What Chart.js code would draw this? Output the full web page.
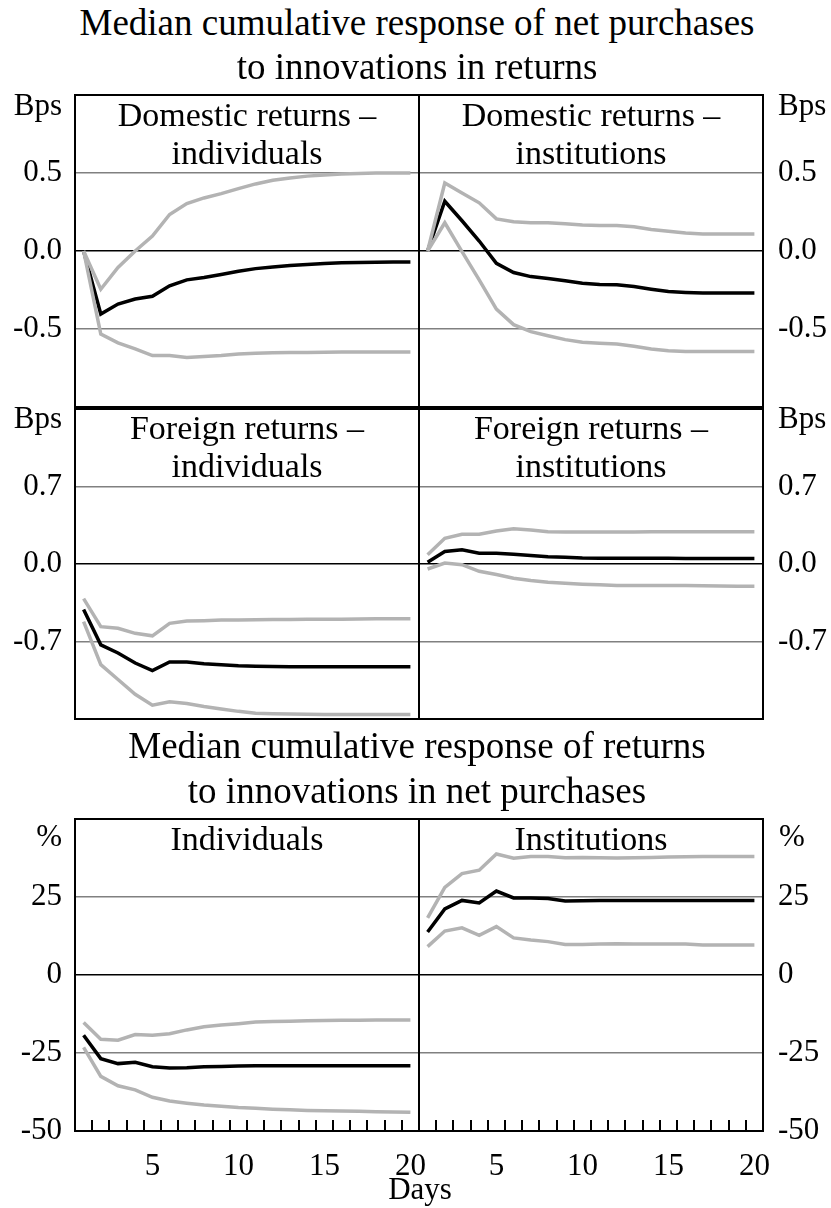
<!DOCTYPE html>
<html>
<head>
<meta charset="utf-8">
<script src="https://cdn.jsdelivr.net/npm/chart.js@4.4.1/dist/chart.umd.min.js"></script>
<style>
  html, body { margin: 0; padding: 0; background: #fff; }
  #fig { position: relative; width: 831px; height: 1208px; overflow: hidden;
         font-family: 'Liberation Serif', 'Times New Roman', serif; color: #000; }
  #fig canvas { position: absolute; }
  .t { position: absolute; white-space: nowrap; line-height: 1; z-index: 5; }
</style>
</head>
<body>
<div id="fig"></div>
<script>
// ---- data: 20-day cumulative impulse responses (median and error bands) ----
const days = ['1','2','3','4','5','6','7','8','9','10','11','12','13','14','15','16','17','18','19','20'];

// net purchases responding to domestic returns, individuals (bps)
const domIndHi  = [0, -0.245, -0.106, 0.0, 0.096, 0.234, 0.304, 0.34, 0.368, 0.40, 0.43, 0.453, 0.468, 0.48, 0.487, 0.493, 0.497, 0.5, 0.5, 0.5];
const domIndMed = [0, -0.404, -0.34, -0.308, -0.29, -0.223, -0.185, -0.17, -0.151, -0.13, -0.113, -0.102, -0.093, -0.087, -0.08, -0.076, -0.074, -0.072, -0.07, -0.07];
const domIndLo  = [0, -0.532, -0.589, -0.627, -0.67, -0.67, -0.683, -0.676, -0.67, -0.66, -0.655, -0.653, -0.651, -0.65, -0.649, -0.648, -0.648, -0.647, -0.647, -0.647];

// net purchases responding to domestic returns, institutions (bps)
const domInsHi  = [0, 0.436, 0.372, 0.309, 0.206, 0.187, 0.181, 0.181, 0.174, 0.166, 0.164, 0.164, 0.155, 0.138, 0.126, 0.115, 0.109, 0.109, 0.109, 0.109];
const domInsMed = [0, 0.319, 0.194, 0.064, -0.079, -0.138, -0.164, -0.177, -0.191, -0.206, -0.215, -0.217, -0.228, -0.245, -0.26, -0.266, -0.27, -0.27, -0.27, -0.27];
const domInsLo  = [0, 0.181, -0.004, -0.185, -0.372, -0.472, -0.517, -0.543, -0.568, -0.585, -0.591, -0.596, -0.611, -0.628, -0.64, -0.645, -0.645, -0.645, -0.645, -0.645];

// net purchases responding to foreign returns, individuals (bps)
const forIndHi  = [-0.313, -0.566, -0.581, -0.626, -0.649, -0.536, -0.515, -0.512, -0.506, -0.505, -0.503, -0.502, -0.501, -0.5, -0.499, -0.498, -0.497, -0.495, -0.494, -0.494];
const forIndMed = [-0.411, -0.73, -0.804, -0.894, -0.962, -0.885, -0.885, -0.9, -0.909, -0.918, -0.923, -0.926, -0.928, -0.929, -0.929, -0.929, -0.929, -0.929, -0.929, -0.929];
const forIndLo  = [-0.521, -0.909, -1.043, -1.177, -1.275, -1.245, -1.26, -1.287, -1.31, -1.331, -1.347, -1.352, -1.355, -1.358, -1.36, -1.36, -1.36, -1.36, -1.36, -1.36];

// net purchases responding to foreign returns, institutions (bps)
const forInsHi  = [0.083, 0.232, 0.268, 0.268, 0.298, 0.319, 0.307, 0.292, 0.29, 0.29, 0.29, 0.29, 0.29, 0.291, 0.291, 0.291, 0.292, 0.292, 0.292, 0.292];
const forInsMed = [0.015, 0.113, 0.128, 0.098, 0.098, 0.089, 0.077, 0.066, 0.06, 0.054, 0.053, 0.052, 0.052, 0.051, 0.051, 0.05, 0.05, 0.05, 0.05, 0.05];
const forInsLo  = [-0.045, 0.009, -0.006, -0.066, -0.095, -0.128, -0.149, -0.164, -0.173, -0.182, -0.188, -0.194, -0.194, -0.194, -0.194, -0.195, -0.196, -0.198, -0.2, -0.2];

// returns responding to net purchases, individuals (%)
const retIndHi  = [-15.2, -20.6, -20.9, -19.1, -19.3, -18.8, -17.6, -16.6, -16.0, -15.6, -15.1, -14.9, -14.8, -14.7, -14.6, -14.5, -14.5, -14.4, -14.4, -14.4];
const retIndMed = [-19.3, -26.8, -28.4, -28.0, -29.4, -29.8, -29.7, -29.4, -29.3, -29.2, -29.1, -29.1, -29.1, -29.1, -29.1, -29.1, -29.1, -29.1, -29.1, -29.1];
const retIndLo  = [-23.2, -32.5, -35.5, -36.8, -39.2, -40.4, -41.1, -41.7, -42.1, -42.5, -42.7, -43.0, -43.2, -43.4, -43.5, -43.6, -43.7, -43.8, -43.9, -44.0];

// returns responding to net purchases, institutions (%)
const retInsHi  = [18.3, 28.1, 32.5, 33.6, 38.8, 37.4, 38.0, 38.0, 37.6, 37.7, 37.6, 37.5, 37.6, 37.7, 37.8, 37.9, 37.95, 38.0, 38.0, 38.0];
const retInsMed = [13.8, 21.2, 23.9, 23.1, 26.9, 24.7, 24.7, 24.5, 23.7, 23.8, 23.9, 23.9, 23.9, 23.9, 23.9, 23.9, 23.9, 23.9, 23.9, 23.9];
const retInsLo  = [9.1, 14.1, 15.1, 12.7, 15.5, 11.9, 11.2, 10.7, 9.8, 9.8, 9.9, 10.0, 9.9, 9.9, 9.9, 9.9, 9.6, 9.6, 9.6, 9.6];

// axis ticks
const bpsTicksTop = [-0.5, 0, 0.5];
const bpsTicksMid = [-0.7, 0, 0.7];
const pctTicks    = [-50, -25, 0, 25];
const dayLabels   = ['5', '10', '15', '20'];

// ---- drawing ----
const FONT = "'Liberation Serif', 'Times New Roman', serif";
const fig = document.getElementById('fig');
const PAD = 40;

function text(str, x, baseline, size, align) {
  const d = document.createElement('div');
  d.className = 't';
  d.textContent = str;
  d.style.fontSize = size + 'px';
  d.style.top = (baseline - 0.8375 * size) + 'px';
  d.style.left = x + 'px';
  if (align === 'center') d.style.transform = 'translateX(-50%)';
  else if (align === 'right') d.style.transform = 'translateX(-100%)';
  fig.appendChild(d);
}

// frame around the plot area, with inward day ticks on the bottom edge when asked for
function makeFrame(dayTicks) {
  return {
    id: 'frame',
    afterDraw(chart) {
      const { ctx, chartArea: a } = chart;
      ctx.save();
      if (dayTicks) {
        const xs = chart.scales.x;
        ctx.strokeStyle = '#000';
        ctx.lineWidth = 2;
        ctx.beginPath();
        for (let i = 1; i < days.length; i++) {
          const px = Math.round(xs.getPixelForValue(i - 0.5));
          ctx.moveTo(px, a.bottom);
          ctx.lineTo(px, a.bottom - 11);
        }
        ctx.stroke();
      }
      ctx.strokeStyle = '#000';
      ctx.lineWidth = 2;
      ctx.strokeRect(a.left, a.top, a.right - a.left, a.bottom - a.top);
      ctx.restore();
    }
  };
}

function panel(o) {
  const leftCol = o.side === 'left';
  const showX = !!o.showX;
  const plotR = leftCol ? 419 : 763;
  const canvasL = leftCol ? 0 : plotR - 344 - PAD;
  const canvasW = leftCol ? plotR + PAD : 831 - canvasL;
  const xH = showX ? 49 : 0;
  const canvasT = o.plotTop - PAD;
  const canvasH = PAD + (o.plotBottom - o.plotTop) + (showX ? xH : PAD);

  const cv = document.createElement('canvas');
  cv.width = canvasW; cv.height = canvasH;
  cv.style.left = canvasL + 'px'; cv.style.top = canvasT + 'px';
  cv.style.width = canvasW + 'px'; cv.style.height = canvasH + 'px';
  fig.appendChild(cv);

  const band = (data) => ({ data, borderColor: '#b3b3b3', borderWidth: 3.5, pointRadius: 0, tension: 0, order: 0 });

  new Chart(cv, {
    type: 'line',
    data: {
      labels: days,
      datasets: [
        band(o.hi),
        band(o.lo),
        { data: o.med, borderColor: '#000', borderWidth: 3.5, pointRadius: 0, tension: 0, order: 1 }
      ]
    },
    options: {
      responsive: false,
      animation: false,
      events: [],
      layout: { padding: { top: PAD, bottom: showX ? 0 : PAD, left: leftCol ? 0 : PAD, right: leftCol ? PAD : 0 } },
      plugins: { legend: { display: false }, tooltip: { enabled: false }, title: { display: false } },
      scales: {
        x: {
          type: 'category',
          display: showX,
          offset: true,
          grid: { display: false },
          border: { display: false },
          ticks: {
            autoSkip: false, maxRotation: 0, minRotation: 0, padding: 9,
            color: '#000', font: { family: FONT, size: 31 },
            callback: (v, i) => dayLabels.includes(days[i]) ? days[i] : ''
          },
          afterFit: (s) => { s.height = xH; }
        },
        y: {
          position: o.side,
          min: o.min, max: o.max,
          afterBuildTicks: (s) => { s.ticks = o.ticks.map(v => ({ value: v })); },
          grid: {
            drawTicks: false, lineWidth: 1.5,
            color: (c) => (c.tick && c.tick.value === 0) ? '#000' : '#808080'
          },
          border: { display: false },
          ticks: {
            padding: leftCol ? 13 : 15,
            color: '#000', font: { family: FONT, size: 31 },
            callback: (v) => o.fmt(v)
          },
          afterFit: (s) => { s.width = leftCol ? 75 : 831 - 763; }
        }
      }
    },
    plugins: [makeFrame(showX)]
  });
}

const f1 = (v) => v.toFixed(1);
const f0 = (v) => String(Math.round(v));

// row 1
panel({ side: 'left', plotTop: 95, plotBottom: 407, min: -1, max: 1, ticks: bpsTicksTop, fmt: f1, hi: domIndHi, med: domIndMed, lo: domIndLo });
panel({ side: 'right', plotTop: 95, plotBottom: 407, min: -1, max: 1, ticks: bpsTicksTop, fmt: f1, hi: domInsHi, med: domInsMed, lo: domInsLo });
// row 2
panel({ side: 'left', plotTop: 409, plotBottom: 719, min: -1.4, max: 1.4, ticks: bpsTicksMid, fmt: f1, hi: forIndHi, med: forIndMed, lo: forIndLo });
panel({ side: 'right', plotTop: 409, plotBottom: 719, min: -1.4, max: 1.4, ticks: bpsTicksMid, fmt: f1, hi: forInsHi, med: forInsMed, lo: forInsLo });
// row 3
panel({ side: 'left', plotTop: 819, plotBottom: 1131, min: -50, max: 50, ticks: pctTicks, fmt: f0, hi: retIndHi, med: retIndMed, lo: retIndLo, showX: true });
panel({ side: 'right', plotTop: 819, plotBottom: 1131, min: -50, max: 50, ticks: pctTicks, fmt: f0, hi: retInsHi, med: retInsMed, lo: retInsLo, showX: true });

// headings
text('Median cumulative response of net purchases', 417, 35, 37, 'center');
text('to innovations in returns', 417, 79, 37, 'center');
text('Median cumulative response of returns', 417, 758, 37, 'center');
text('to innovations in net purchases', 417, 803, 37, 'center');

text('Domestic returns \u2013', 247, 126.5, 34, 'center');
text('individuals', 247, 164.5, 34, 'center');
text('Domestic returns \u2013', 591, 126.5, 34, 'center');
text('institutions', 591, 164.5, 34, 'center');
text('Foreign returns \u2013', 247, 439, 34, 'center');
text('individuals', 247, 477, 34, 'center');
text('Foreign returns \u2013', 591, 439, 34, 'center');
text('institutions', 591, 477, 34, 'center');
text('Individuals', 247, 850, 34, 'center');
text('Institutions', 591, 850, 34, 'center');

// unit labels
text('Bps', 62, 115, 31, 'right');
text('Bps', 778, 115, 31, 'left');
text('Bps', 62, 428, 31, 'right');
text('Bps', 778, 428, 31, 'left');
text('%', 62, 846, 31, 'right');
text('%', 779, 846, 31, 'left');

text('Days', 420, 1199, 31, 'center');
</script>
</body>
</html>
